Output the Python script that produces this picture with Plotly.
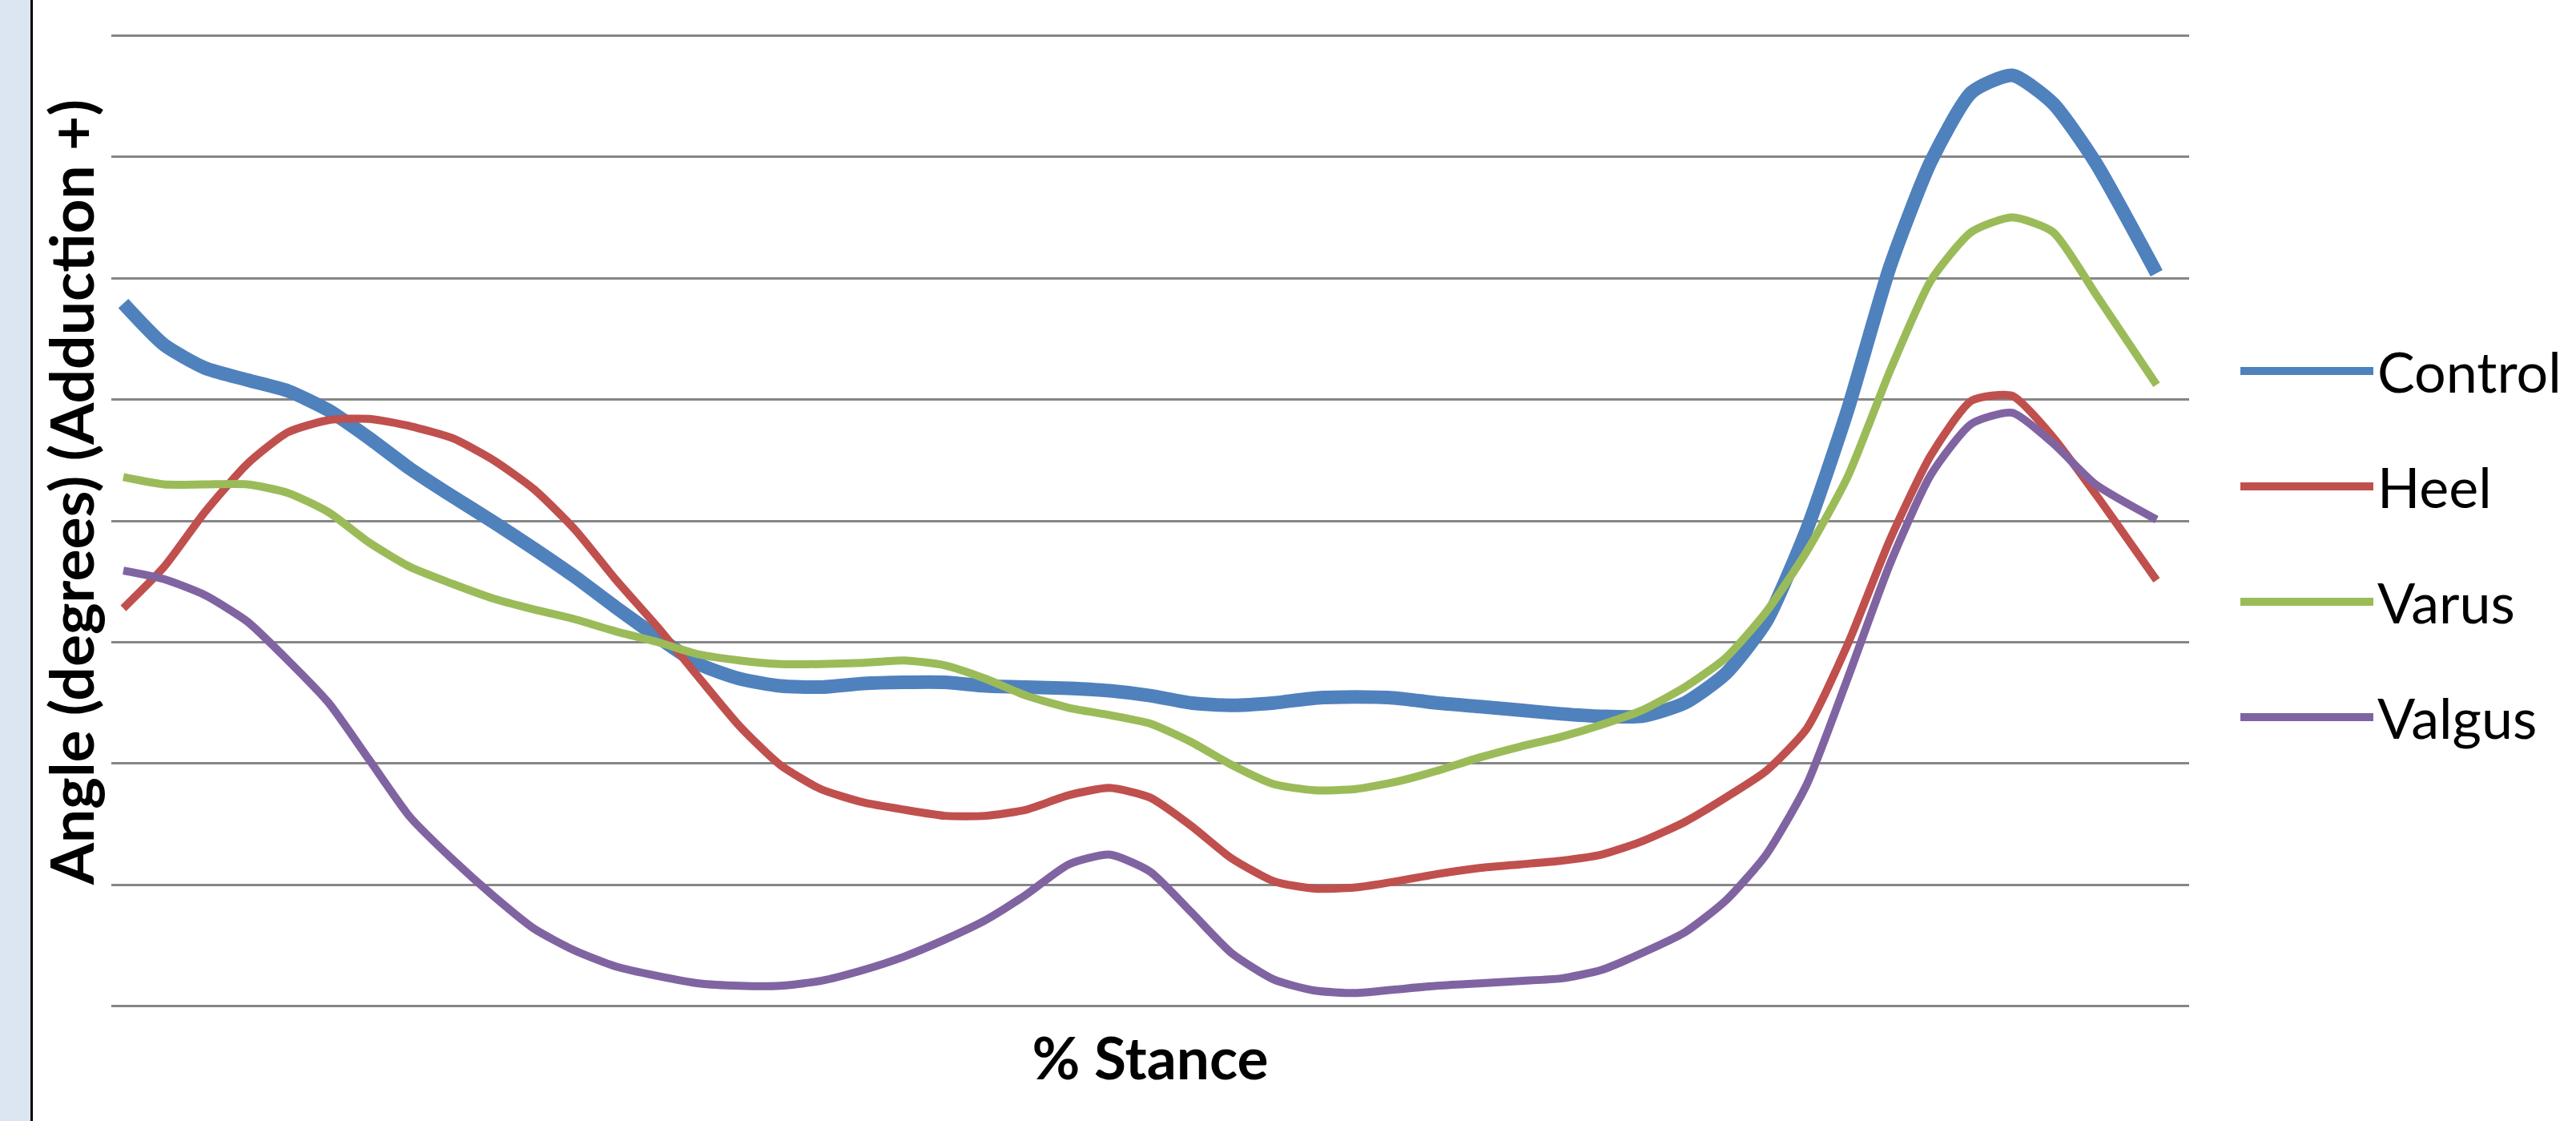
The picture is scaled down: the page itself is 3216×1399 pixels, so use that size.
import plotly.graph_objects as go

# % stance (x) sample positions
stance = [0, 2.0, 4.0, 6.1, 8.1, 10.1, 12.1, 14.1, 16.2, 18.2,
          20.2, 22.2, 24.2, 26.3, 28.3, 30.3, 32.3, 34.3, 36.4, 38.4,
          40.4, 42.4, 44.4, 46.5, 48.5, 50.5, 52.5, 54.5, 56.6, 58.6,
          60.6, 62.6, 64.6, 66.7, 68.7, 70.7, 72.7, 74.7, 76.8, 78.8,
          80.8, 82.8, 84.8, 86.9, 88.9, 90.9, 92.9, 94.9, 97.0, 100]

control = [3.79, 3.45, 3.26, 3.16, 3.07, 2.91, 2.68, 2.43, 2.20, 1.99,
           1.77, 1.54, 1.29, 1.04, 0.82, 0.70, 0.64, 0.63, 0.66, 0.67,
           0.67, 0.64, 0.63, 0.62, 0.60, 0.56, 0.50, 0.48, 0.50, 0.54,
           0.55, 0.54, 0.50, 0.47, 0.44, 0.41, 0.39, 0.39, 0.50, 0.74,
           1.17, 1.93, 2.91, 4.10, 4.96, 5.53, 5.67, 5.44, 4.95, 4.04]

heel = [1.28, 1.62, 2.07, 2.47, 2.73, 2.83, 2.84, 2.78, 2.68, 2.50,
        2.26, 1.93, 1.52, 1.12, 0.71, 0.31, -0.01, -0.21, -0.32, -0.38,
        -0.43, -0.43, -0.38, -0.26, -0.20, -0.28, -0.51, -0.78, -0.97, -1.03,
        -1.02, -0.97, -0.91, -0.86, -0.83, -0.80, -0.75, -0.64, -0.48, -0.28,
        -0.06, 0.29, 0.98, 1.85, 2.54, 2.99, 3.03, 2.69, 2.22, 1.51]

varus = [2.36, 2.30, 2.30, 2.30, 2.23, 2.07, 1.82, 1.62, 1.48, 1.36,
         1.27, 1.19, 1.09, 1.00, 0.90, 0.85, 0.82, 0.82, 0.83, 0.85,
         0.81, 0.70, 0.56, 0.46, 0.40, 0.33, 0.18, -0.01, -0.17, -0.22,
         -0.21, -0.15, -0.06, 0.05, 0.14, 0.22, 0.32, 0.44, 0.63, 0.87,
         1.25, 1.75, 2.36, 3.24, 3.98, 4.38, 4.50, 4.38, 3.87, 3.12]

valgus = [1.59, 1.52, 1.39, 1.17, 0.85, 0.50, 0.03, -0.44, -0.79, -1.09,
          -1.36, -1.54, -1.67, -1.75, -1.81, -1.83, -1.83, -1.79, -1.70, -1.59,
          -1.45, -1.29, -1.08, -0.83, -0.75, -0.89, -1.22, -1.56, -1.78, -1.87,
          -1.89, -1.86, -1.83, -1.81, -1.79, -1.77, -1.70, -1.56, -1.39, -1.13,
          -0.75, -0.17, 0.70, 1.65, 2.38, 2.80, 2.89, 2.64, 2.30, 2.01]

series_names = ["Control", "Heel", "Varus", "Valgus"]
series_values = [control, heel, varus, valgus]
series_colors = ["#4F81BD", "#C0504D", "#9BBB59", "#8064A2"]
series_widths = [17, 10, 10, 10]

W, H = 3216, 1399
L, R, T, B = 139, 483, 41, 140
pw = W - L - R
ph = H - T - B

fig = go.Figure()
for name, vals, col, lw in zip(series_names, series_values, series_colors, series_widths):
    fig.add_trace(go.Scatter(
        x=stance, y=vals, name=name, mode="lines",
        line=dict(color=col, width=lw, shape="spline", smoothing=0.6),
        legendgroup=name,
    ))

def px2paper(px):
    return (px - L) / pw

def py2paper(py):
    return (H - B - py) / ph

fig.update_layout(
    width=W, height=H,
    margin=dict(l=L, r=R, t=T, b=B, pad=0),
    paper_bgcolor="white", plot_bgcolor="white",
    font=dict(family="Lato, Noto Sans, sans-serif", color="black"),
    showlegend=True,
    legend=dict(
        x=px2paper(2792), xanchor="left", y=py2paper(679), yanchor="middle",
        font=dict(size=70, family="Lato, sans-serif", color="black"),
        itemwidth=166, tracegroupgap=50, traceorder="grouped",
        bgcolor="rgba(0,0,0,0)",
    ),
    xaxis=dict(
        range=[-0.59, 101.6], showgrid=False, zeroline=False,
        showticklabels=False, ticks="", showline=False,
        title=dict(text="<b>% Stance</b>", font=dict(size=73, family="Lato, sans-serif"), standoff=36),
    ),
    yaxis=dict(
        range=[-2.02, 6.02], dtick=1, tick0=0, showgrid=True,
        gridcolor="#868686", gridwidth=3, zeroline=False,
        showticklabels=False, ticks="", showline=False,
    ),
    annotations=[dict(
        text="<b>Angle (degrees) (Adduction +)</b>", textangle=-90,
        xref="paper", yref="paper", x=px2paper(88), y=py2paper(615),
        xanchor="center", yanchor="middle", showarrow=False,
        font=dict(size=75, family="Lato, sans-serif", color="black"),
    )],
    shapes=[
        dict(type="rect", xref="paper", yref="paper", layer="below",
             x0=px2paper(-5), x1=px2paper(38), y0=-1, y1=2,
             fillcolor="#DCE6F2", line=dict(width=0)),
        dict(type="line", xref="paper", yref="paper", layer="below",
             x0=px2paper(39.5), x1=px2paper(39.5), y0=-1, y1=2,
             line=dict(color="black", width=3)),
    ],
)

fig.write_html(
    "out.html",
    config={"displayModeBar": False},
    post_script="document.body.style.margin='0';document.body.style.overflow='hidden';",
)
